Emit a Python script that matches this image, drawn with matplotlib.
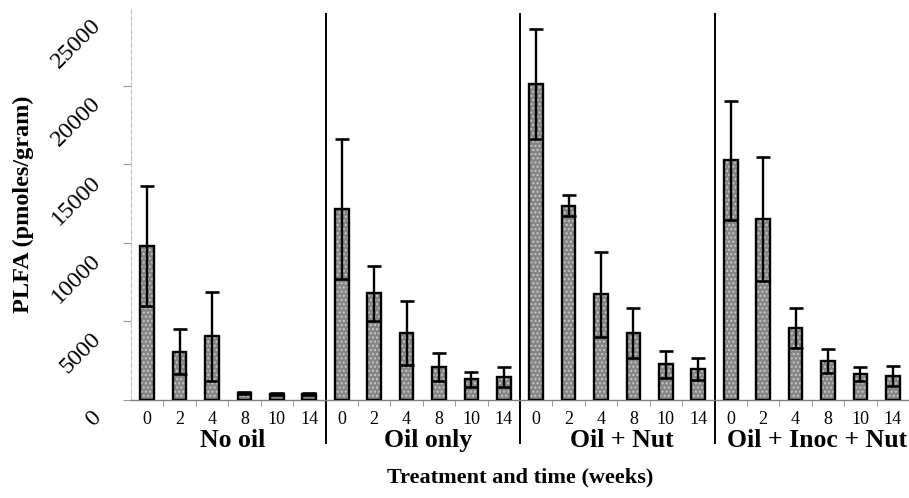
import numpy as np
import matplotlib
matplotlib.use("Agg")
import matplotlib.pyplot as plt
from matplotlib.transforms import ScaledTranslation

plt.rcParams['font.family'] = ['Liberation Serif', 'DejaVu Serif']
plt.rcParams['hatch.linewidth'] = 1.0

# --- data
weeks = ['0', '2', '4', '8', '10', '14']
groups = ['No oil', 'Oil only', 'Oil + Nut', 'Oil + Inoc + Nut']

no_oil = [9800, 3070, 4070, 450, 400, 400]
no_oil_err = [3800, 1440, 2830, 80, 60, 60]
oil_only = [12150, 6800, 4280, 2120, 1320, 1480]
oil_only_err = [4450, 1750, 2030, 900, 480, 640]
oil_nut = [20080, 12360, 6720, 4240, 2270, 1970]
oil_nut_err = [3500, 680, 2700, 1600, 870, 720]
oil_inoc_nut = [15260, 11510, 4560, 2480, 1650, 1550]
oil_inoc_nut_err = [3780, 3930, 1270, 760, 430, 630]

yticks = [0, 5000, 10000, 15000, 20000, 25000]

values = no_oil + oil_only + oil_nut + oil_inoc_nut
errors = no_oil_err + oil_only_err + oil_nut_err + oil_inoc_nut_err
x = np.arange(len(values))
n = len(weeks)

fig = plt.figure(figsize=(9.09, 4.98), dpi=100)
ax = fig.add_axes([131/909, 98/498, 778/909, 393/498])

bw = 0.42
# speckled gray fill, then black outline
ax.bar(x, values, width=bw, color='#858585', edgecolor='#c8c8c8', hatch='....', linewidth=0, zorder=2)
ax.bar(x, values, width=bw, color='none', edgecolor='black', linewidth=1.7, zorder=3)
ax.errorbar(x, values, yerr=errors, fmt='none', ecolor='black', elinewidth=1.7,
            capsize=5, capthick=1.9, zorder=4)

ax.set_xlim(-0.5, len(values) - 0.5)
ax.set_ylim(0, 25000)

# group separators, running down through the tick labels
for k in range(1, len(groups)):
    ax.axvline(k*n - 0.5, ymin=-43/393, ymax=386/393, color='black', lw=1.4, clip_on=False)

# x ticks: week labels under bars, small marks between bars
ax.set_xticks(x)
ax.set_xticklabels(weeks * len(groups), fontsize=13)
ax.set_xticks(np.arange(len(values)) + 0.5, minor=True)
ax.tick_params(axis='x', which='major', length=0, pad=8)
ax.tick_params(axis='x', which='minor', length=4, color='#888888', direction='out')

# y ticks: rotated, shifted down like the original
ax.set_yticks(yticks)
ax.set_yticklabels([str(v) for v in yticks], fontsize=17.5)
ax.tick_params(axis='y', length=6, color='#999999', width=0.8, pad=18)
ax.yaxis.get_major_ticks()[-1].tick1line.set_visible(False)
off = ScaledTranslation(0, -0.15, fig.dpi_scale_trans)
for lab in ax.get_yticklabels():
    lab.set_rotation(45)
    lab.set_rotation_mode('anchor')
    lab.set_ha('right')
    lab.set_va('center')
    lab.set_transform(lab.get_transform() + off)

for s in ['top', 'right']:
    ax.spines[s].set_visible(False)
ax.spines['left'].set_color('#c0c0c0')
ax.spines['left'].set_linestyle((0, (4, 2)))
ax.spines['left'].set_linewidth(0.8)
ax.spines['bottom'].set_color('#808080')
ax.spines['bottom'].set_linewidth(1.0)

for k, g in enumerate(groups):
    ax.text(k*n + (n - 1)/2 + 0.15, -0.104, g, transform=ax.get_xaxis_transform(),
            ha='center', va='center', fontsize=18.5, fontweight='bold')

ax.set_xlabel('Treatment and time (weeks)', fontsize=16, fontweight='bold', labelpad=28)
fig.text(23/909, 1 - 204/498, 'PLFA (pmoles/gram)', rotation=90, ha='center', va='center',
         fontsize=17.5, fontweight='bold')

fig.savefig('out.png', dpi=100)
